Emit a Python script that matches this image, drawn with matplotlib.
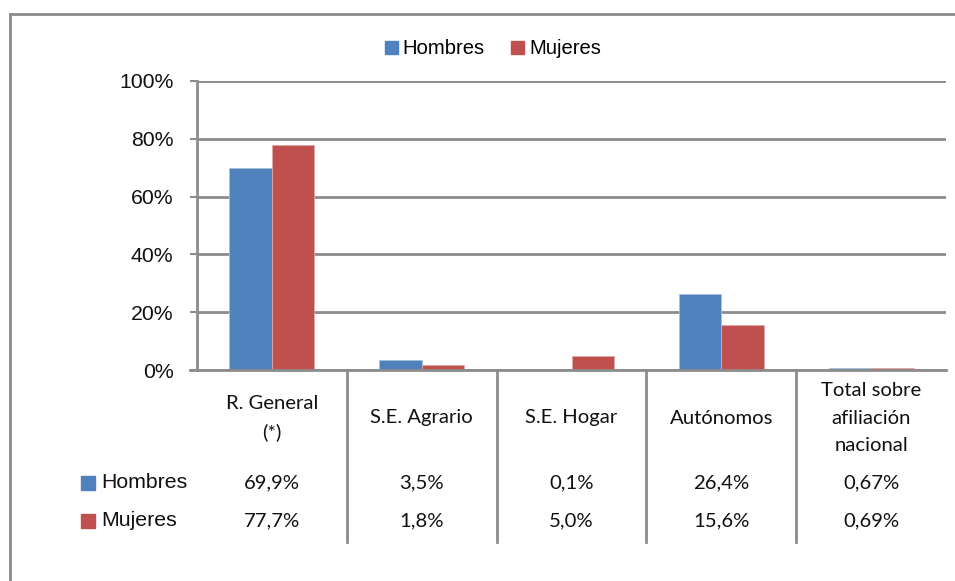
import numpy as np
import matplotlib.pyplot as plt
from matplotlib.patches import Rectangle
from matplotlib.lines import Line2D
from matplotlib.transforms import blended_transform_factory

categorias = ['R. General\n(*)', 'S.E. Agrario', 'S.E. Hogar', 'Autónomos',
              'Total sobre\nafiliación\nnacional']
hombres = [69.9, 3.5, 0.1, 26.4, 0.67]
mujeres = [77.7, 1.8, 5.0, 15.6, 0.69]
decimales = [1, 1, 1, 1, 2]
yticks = [0, 20, 40, 60, 80, 100]

azul = '#4F81BD'
rojo = '#C0504D'
gris = '#8C8C8C'

W, H = 955, 581
fig = plt.figure(figsize=(W / 100, H / 100), dpi=100)


def fx(px):
    return px / W


def fy(py):
    return 1 - py / H


ax = fig.add_axes([fx(197), fy(370), fx(946) - fx(197), fy(81) - fy(370)])

x = np.arange(len(categorias))
w = 0.284
ax.bar(x - w / 2, hombres, w, color=azul, edgecolor='#A7C0DE', linewidth=0.6, zorder=3)
ax.bar(x + w / 2, mujeres, w, color=rojo, edgecolor='#E0A8A6', linewidth=0.6, zorder=3)

ax.set_xlim(-0.5, len(categorias) - 0.5)
ax.set_ylim(0, 100)
ax.set_yticks(yticks)
ax.set_yticklabels([f'{t}%' for t in yticks], family='Liberation Sans', fontsize=15.3,
                   color='#111111')
ax.set_xticks([])
ax.yaxis.grid(True, color=gris, linewidth=2)
ax.set_axisbelow(True)
ax.tick_params(axis='y', length=5, width=1.5, color=gris, pad=12)
for s in ['top', 'right']:
    ax.spines[s].set_visible(False)
ax.spines['left'].set_color(gris)
ax.spines['left'].set_linewidth(2)
ax.spines['bottom'].set_color(gris)
ax.spines['bottom'].set_linewidth(2)
ax.spines['bottom'].set_zorder(4)

# extend x axis line to tick
fig.add_artist(Line2D([fx(190), fx(197)], [fy(370), fy(370)], color=gris, linewidth=2))

# data table
tr = blended_transform_factory(ax.transData, fig.transFigure)
for b in np.arange(0.5, len(categorias) - 0.5, 1):
    ax.plot([b, b], [fy(370), fy(542)], color=gris, linewidth=2, transform=tr, clip_on=False)

tfont = dict(family='Lato', fontsize=14.6, color='#111111', ha='center', va='center')
for i, c in enumerate(categorias):
    ax.text(x[i], fy(418), c, transform=tr, linespacing=1.75, **tfont)
    ax.text(x[i], fy(483), f'{hombres[i]:.{decimales[i]}f}%'.replace('.', ','), transform=tr, **tfont)
    ax.text(x[i], fy(521), f'{mujeres[i]:.{decimales[i]}f}%'.replace('.', ','), transform=tr, **tfont)

for py, col, lab in [(483, azul, 'Hombres'), (521, rojo, 'Mujeres')]:
    fig.add_artist(Rectangle((fx(81), fy(py + 7)), fx(95) - fx(81), fy(py - 7) - fy(py + 7),
                             color=col, transform=fig.transFigure))
    fig.text(fx(101), fy(py), lab, family='Liberation Sans', fontsize=15.3, va='center',
             ha='left', color='#111111')

# legend
handles = [Rectangle((0, 0), 1, 1, color=azul), Rectangle((0, 0), 1, 1, color=rojo)]
fig.legend(handles, ['Hombres', 'Mujeres'], loc='center', bbox_to_anchor=(fx(493), fy(49)),
           ncol=2, frameon=False, prop={'family': 'Liberation Sans', 'size': 14.6},
           handlelength=0.62, handleheight=0.62, handletextpad=0.25, columnspacing=1.3)

# outer chart border
fig.add_artist(Line2D([fx(10), fx(10)], [fy(14), 0], color=gris, linewidth=2))
fig.add_artist(Line2D([fx(10), 1], [fy(14), fy(14)], color=gris, linewidth=2))

fig.savefig('out.png', dpi=100)
